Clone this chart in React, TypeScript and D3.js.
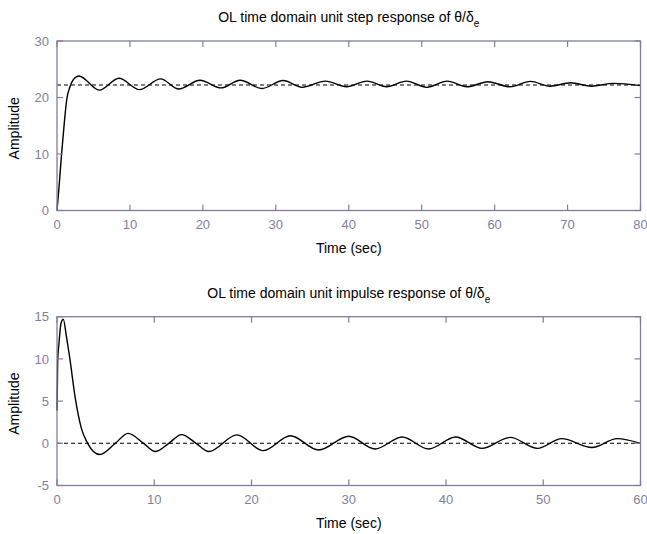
import React from 'react';
import * as d3 from 'd3';

const W = 647;
const H = 534;

// step response of theta/delta_e
const stepTime = [0, 0.3, 0.64, 1.0, 1.33, 1.78, 2.47, 3.0, 5.8, 8.5, 11.3, 14.2, 16.7, 19.6, 22.5, 25.1, 28.1, 31.0, 33.6, 36.8, 39.7, 42.5, 45.2, 47.9, 50.7, 53.5, 56.2, 59.1, 62.1, 64.9, 67.6, 70.4, 73.3, 76.3, 80];
const stepAmp = [0, 4.5, 10.2, 15.5, 19.6, 21.9, 23.5, 23.8, 21.3, 23.4, 21.4, 23.3, 21.5, 23.05, 21.7, 23.05, 21.6, 23.0, 21.8, 22.9, 21.9, 22.9, 21.9, 22.9, 21.8, 22.9, 21.9, 22.8, 21.9, 22.85, 22.0, 22.6, 22.0, 22.5, 22.1];
const stepFinal = 22.2;
const stepXTicks = [0, 10, 20, 30, 40, 50, 60, 70, 80];
const stepYTicks = [0, 10, 20, 30];

// impulse response
const impulseTime = [0, 0.07, 0.2, 0.41, 0.65, 0.95, 1.3, 1.9, 2.5, 3.15, 4.4, 6.0, 7.3, 8.9, 10.1, 11.5, 12.8, 14.3, 15.6, 18.5, 21.2, 24.0, 26.9, 30.0, 32.7, 35.5, 38.2, 41.0, 43.7, 46.6, 49.4, 51.9, 55.0, 57.6, 60];
const impulseAmp = [3.9, 9.8, 11.8, 14.2, 14.7, 12.8, 10.2, 5.2, 1.8, 0, -1.33, 0, 1.18, 0, -0.98, 0, 1.03, 0, -0.98, 1.0, -0.87, 0.9, -0.8, 0.83, -0.67, 0.75, -0.67, 0.75, -0.6, 0.7, -0.6, 0.55, -0.5, 0.55, 0];
const impulseFinal = 0;
const impulseXTicks = [0, 10, 20, 30, 40, 50, 60];
const impulseYTicks = [-5, 0, 5, 10, 15];

const font = '"Liberation Sans", Arial, Helvetica, sans-serif';
const axisColor = '#7f7f9d';
const left = 57;
const right = 640.5;
const tickLen = 6;

type PanelProps = {
  top: number;
  bottom: number;
  time: number[];
  amp: number[];
  final: number;
  xTicks: number[];
  yTicks: number[];
  kind: string;
};

const Panel = ({ top, bottom, time, amp, final, xTicks, yTicks, kind }: PanelProps) => {
  const x = d3.scaleLinear().domain([xTicks[0], xTicks[xTicks.length - 1]]).range([left, right]);
  const y = d3.scaleLinear().domain([yTicks[0], yTicks[yTicks.length - 1]]).range([bottom, top]);

  const line = d3.line<number>()
    .x((d, i) => x(time[i]))
    .y(d => y(d))
    .curve(d3.curveMonotoneX);

  const cx = (left + right) / 2;
  const cy = (top + bottom) / 2;

  return (
    <g>
      <text x={cx} y={top - 19} textAnchor="middle" fontSize={14} fill="#000">
        {`OL time domain unit ${kind} response of θ/δ`}
        <tspan fontSize={10} dy={5}>e</tspan>
      </text>

      <line x1={left} x2={right} y1={y(final)} y2={y(final)} stroke="#000" strokeWidth={1.1} strokeDasharray="4,3" />
      <path d={line(amp) || ''} fill="none" stroke="#000" strokeWidth={1.4} />

      <rect x={left} y={top} width={right - left} height={bottom - top} fill="none" stroke={axisColor} strokeWidth={1.3} />

      {xTicks.map(t => (
        <g key={'x' + t}>
          <line x1={x(t)} x2={x(t)} y1={bottom} y2={bottom - tickLen} stroke={axisColor} strokeWidth={1.2} />
          <line x1={x(t)} x2={x(t)} y1={top} y2={top + tickLen} stroke={axisColor} strokeWidth={1.2} />
          <text x={x(t)} y={bottom + 18} textAnchor="middle" fontSize={13} fill={axisColor}>{t}</text>
        </g>
      ))}
      {yTicks.map(t => (
        <g key={'y' + t}>
          <line x1={left} x2={left + tickLen} y1={y(t)} y2={y(t)} stroke={axisColor} strokeWidth={1.2} />
          <line x1={right} x2={right - tickLen} y1={y(t)} y2={y(t)} stroke={axisColor} strokeWidth={1.2} />
          <text x={49} y={y(t) + 4.7} textAnchor="end" fontSize={13} fill={axisColor}>{t}</text>
        </g>
      ))}

      <text x={cx} y={bottom + 42.5} textAnchor="middle" fontSize={14} fill="#000">Time (sec)</text>
      <text transform={`translate(18.5, ${cy + 2.5}) rotate(-90)`} textAnchor="middle" fontSize={14} fill="#000">Amplitude</text>
    </g>
  );
};

export default function App() {
  return (
    <svg
      width={W}
      height={H}
      style={{ position: 'absolute', left: 0, top: 0, background: '#fff' }}
      fontFamily={font}
    >
      <Panel top={41} bottom={210.5} time={stepTime} amp={stepAmp} final={stepFinal}
        xTicks={stepXTicks} yTicks={stepYTicks} kind="step" />
      <Panel top={316.7} bottom={485.5} time={impulseTime} amp={impulseAmp} final={impulseFinal}
        xTicks={impulseXTicks} yTicks={impulseYTicks} kind="impulse" />
    </svg>
  );
}
